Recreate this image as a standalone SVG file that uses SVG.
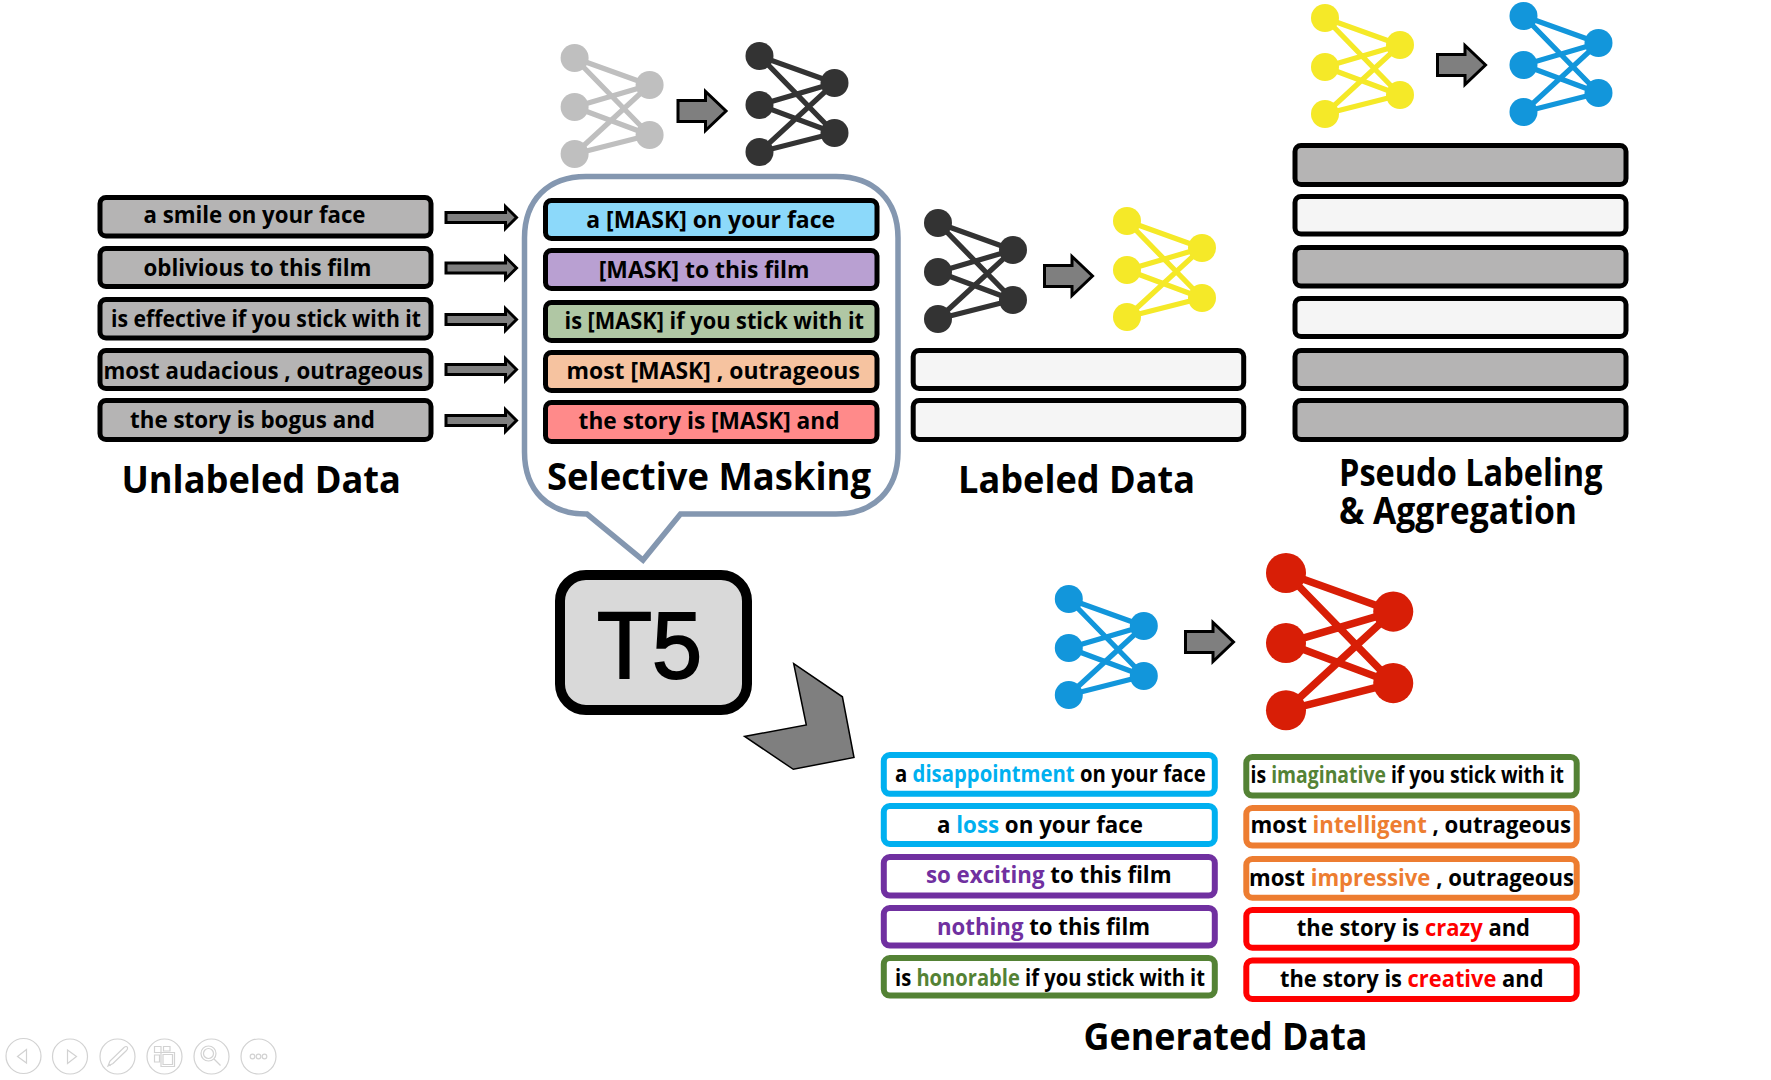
<svg xmlns="http://www.w3.org/2000/svg" xmlns:xlink="http://www.w3.org/1999/xlink" width="1771" height="1080" viewBox="0 0 1771 1080">
<style>
text{font-family:"Open Sans","Noto Sans","Liberation Sans",sans-serif;fill:#000}
.row{font-size:24px;font-weight:700}
.title{font-size:37px;font-weight:700}
.box{stroke:#000;stroke-width:5;fill:#b5b4b4}
.w{fill:#f5f5f5}
.g{stroke-width:6;fill:#fff}
.arr{fill:#7f7f7f;stroke:#000;stroke-width:3}
.ic{fill:none;stroke:#d2d2d2;stroke-width:1.2}
.bl{fill:#00b0f0}.pu{fill:#7030a0}.gr{fill:#548235}.or{fill:#ed7d31}.re{fill:#ff0000}
</style>
<defs>
<g id="net"><g stroke="currentColor" stroke-width="5.200"><path fill="none" d="M0 0L75 27M0 0L75 77M0 49L75 27M0 49L75 77M0 96L75 27M0 96L75 77"/></g><g fill="currentColor"><circle r="14"/><circle cy="49" r="14"/><circle cy="96" r="14"/><circle cx="75" cy="27" r="14"/><circle cx="75" cy="77" r="14"/></g></g>
<path id="bigArrow" d="M1.500 12.500H29V3.500L49.500 23L29 42.500V33.500H1.500Z"/>
<path id="smallArrow" d="M1.500-5H61V-11L72-0L61 11V5H1.500Z"/>
</defs>

<g id="connectors">
<use href="#smallArrow" class="arr" x="444.500" y="217.500"/>
<use href="#smallArrow" class="arr" x="444.500" y="268"/>
<use href="#smallArrow" class="arr" x="444.500" y="319.500"/>
<use href="#smallArrow" class="arr" x="444.500" y="369.500"/>
<use href="#smallArrow" class="arr" x="444.500" y="420.500"/>
<use href="#bigArrow" class="arr" x="676.500" y="88"/>
<use href="#bigArrow" class="arr" x="1043" y="253"/>
<use href="#bigArrow" class="arr" x="1436" y="42"/>
<use href="#bigArrow" class="arr" x="1184" y="619"/>
<path id="t5-arrow" d="M793.700 663.600L842.400 696.800L854 757.500L793.300 769.300L744.600 736.400L806.300 725Z" fill="#7f7f7f" stroke="#000" stroke-width="1.500"/>
</g>

<g id="bubble"><path d="M587 514H586C548 514 524.500 490 524.500 452V238C524.500 200 548 176.500 586 176.500H836C874 176.500 898 200 898 238V452C898 490 874 514 836 514H680.500L643 560Z" fill="#fff" stroke="#8497b0" stroke-width="5.500"/></g>

<g id="net-grey"><use href="#net" x="574.600" y="58" color="#bfbfbf"/></g>
<g id="net-black-1"><use href="#net" x="759.500" y="56" color="#333"/></g>
<g id="net-black-2"><use href="#net" x="938" y="223" color="#333"/></g>
<g id="net-yellow-1"><use href="#net" x="1127" y="221" color="#f5e928"/></g>
<g id="net-yellow-2"><use href="#net" x="1325" y="18" color="#f5e928"/></g>
<g id="net-blue-1"><use href="#net" x="1523.500" y="16" color="#1296db"/></g>
<g id="net-blue-2"><use href="#net" x="1068.800" y="599" color="#1296db"/></g>
<g id="net-red"><use href="#net" transform="translate(1286 573) scale(1.43)" color="#d81e06"/></g>

<g id="unlabeled">
<g id="u1"><rect class="box" x="100" y="197.500" width="331" height="38.500" rx="6"/><text class="row" x="143.500" y="222.500" textLength="222" lengthAdjust="spacingAndGlyphs">a smile on your face</text></g>
<g id="u2"><rect class="box" x="100" y="248.500" width="331" height="38" rx="6"/><text class="row" x="143.500" y="275.500" textLength="228" lengthAdjust="spacingAndGlyphs">oblivious to this film</text></g>
<g id="u3"><rect class="box" x="100" y="299.500" width="331" height="38.500" rx="6"/><text class="row" x="111" y="326.500" textLength="310" lengthAdjust="spacingAndGlyphs">is effective if you stick with it</text></g>
<g id="u4"><rect class="box" x="100" y="350.500" width="331" height="38" rx="6"/><text class="row" x="103.500" y="378.500" textLength="319.500" lengthAdjust="spacingAndGlyphs">most audacious , outrageous</text></g>
<g id="u5"><rect class="box" x="100" y="400.500" width="331" height="39" rx="6"/><text class="row" x="130" y="428" textLength="245" lengthAdjust="spacingAndGlyphs">the story is bogus and</text></g>
<text class="title" x="121.400" y="493" textLength="279.600" lengthAdjust="spacingAndGlyphs">Unlabeled Data</text>
</g>

<g id="masked">
<g id="m1"><rect class="box" x="545.500" y="200.500" width="331.500" height="38" rx="6" style="fill:#8cd9fa"/><text class="row" x="586.200" y="227.500" textLength="249" lengthAdjust="spacingAndGlyphs">a [MASK] on your face</text></g>
<g id="m2"><rect class="box" x="545.500" y="250.500" width="331.500" height="38" rx="6" style="fill:#b9a0d2"/><text class="row" x="598.800" y="277.500" textLength="210.700" lengthAdjust="spacingAndGlyphs">[MASK] to this film</text></g>
<g id="m3"><rect class="box" x="545.500" y="302.500" width="331.500" height="38" rx="6" style="fill:#b0c7a4"/><text class="row" x="564.500" y="328.500" textLength="299.500" lengthAdjust="spacingAndGlyphs">is [MASK] if you stick with it</text></g>
<g id="m4"><rect class="box" x="545.500" y="352.500" width="331.500" height="38" rx="6" style="fill:#f6c3a0"/><text class="row" x="566.500" y="379" textLength="293.300" lengthAdjust="spacingAndGlyphs">most [MASK] , outrageous</text></g>
<g id="m5"><rect class="box" x="545.500" y="402.500" width="331.500" height="39" rx="6" style="fill:#ff8a8a"/><text class="row" x="578.600" y="429" textLength="261" lengthAdjust="spacingAndGlyphs">the story is [MASK] and</text></g>
<text class="title" x="547" y="490" textLength="324" lengthAdjust="spacingAndGlyphs">Selective Masking</text>
</g>

<g id="t5"><rect x="560" y="575" width="187" height="135" rx="26" fill="#d9d9d9" stroke="#000" stroke-width="10"/><text x="597" y="678" textLength="105" lengthAdjust="spacingAndGlyphs" style="font-family:'Liberation Sans',Arial,sans-serif;font-size:95px;font-weight:400;stroke:#000;stroke-width:2">T5</text></g>

<g id="labeled">
<rect class="box w" x="913.200" y="350.500" width="330.500" height="38" rx="6"/>
<rect class="box w" x="913.200" y="400.500" width="330.500" height="39" rx="6"/>
<text class="title" x="958" y="493" textLength="237" lengthAdjust="spacingAndGlyphs">Labeled Data</text>
</g>

<g id="pseudo">
<rect class="box" x="1295" y="145.500" width="331" height="39" rx="6"/>
<rect class="box w" x="1295" y="196.500" width="331" height="37.500" rx="6"/>
<rect class="box" x="1295" y="247.500" width="331" height="38.500" rx="6"/>
<rect class="box w" x="1295" y="298.500" width="331" height="38" rx="6"/>
<rect class="box" x="1295" y="350.500" width="331" height="38" rx="6"/>
<rect class="box" x="1295" y="400.500" width="331" height="39" rx="6"/>
<text class="title" x="1339" y="486" textLength="263.500" lengthAdjust="spacingAndGlyphs">Pseudo Labeling</text>
<text class="title" x="1339" y="523.500" textLength="238" lengthAdjust="spacingAndGlyphs">&amp; Aggregation</text>
</g>

<g id="generated">
<g id="g1"><rect class="box g" x="883.800" y="755" width="331" height="38.800" rx="6" style="stroke:#00b0f0"/><text class="row" x="895" y="782" textLength="310.700" lengthAdjust="spacingAndGlyphs">a <tspan class="bl">disappointment</tspan> on your face</text></g>
<g id="g2"><rect class="box g" x="883.800" y="806" width="331" height="38" rx="6" style="stroke:#00b0f0"/><text class="row" x="937" y="833.300" textLength="206" lengthAdjust="spacingAndGlyphs">a <tspan class="bl">loss</tspan> on your face</text></g>
<g id="g3"><rect class="box g" x="883.800" y="857" width="331" height="38.600" rx="6" style="stroke:#7030a0"/><text class="row" x="926" y="883.300" textLength="245.500" lengthAdjust="spacingAndGlyphs"><tspan class="pu">so exciting</tspan> to this film</text></g>
<g id="g4"><rect class="box g" x="883.800" y="908" width="331" height="37.600" rx="6" style="stroke:#7030a0"/><text class="row" x="937" y="935" textLength="213" lengthAdjust="spacingAndGlyphs"><tspan class="pu">nothing</tspan> to this film</text></g>
<g id="g5"><rect class="box g" x="883.800" y="958" width="331" height="37.600" rx="6" style="stroke:#548235"/><text class="row" x="895" y="986" textLength="310" lengthAdjust="spacingAndGlyphs">is <tspan class="gr">honorable</tspan> if you stick with it</text></g>
<g id="g6"><rect class="box g" x="1246.300" y="757" width="330.400" height="38.600" rx="6" style="stroke:#548235"/><text class="row" x="1250.600" y="783" textLength="313.400" lengthAdjust="spacingAndGlyphs">is <tspan class="gr">imaginative</tspan> if you stick with it</text></g>
<g id="g7"><rect class="box g" x="1246.300" y="808" width="330.400" height="37.600" rx="6" style="stroke:#ed7d31"/><text class="row" x="1250.600" y="833.300" textLength="320.400" lengthAdjust="spacingAndGlyphs">most <tspan class="or">intelligent</tspan> , outrageous</text></g>
<g id="g8"><rect class="box g" x="1246.300" y="859" width="330.400" height="38.700" rx="6" style="stroke:#ed7d31"/><text class="row" x="1249" y="886" textLength="325" lengthAdjust="spacingAndGlyphs">most <tspan class="or">impressive</tspan> , outrageous</text></g>
<g id="g9"><rect class="box g" x="1246.300" y="910" width="330.400" height="37.700" rx="6" style="stroke:#ff0000"/><text class="row" x="1296.800" y="936.300" textLength="233.200" lengthAdjust="spacingAndGlyphs">the story is <tspan class="re">crazy</tspan> and</text></g>
<g id="g10"><rect class="box g" x="1246.300" y="960.500" width="330.400" height="38.500" rx="6" style="stroke:#ff0000"/><text class="row" x="1280" y="987.300" textLength="263.500" lengthAdjust="spacingAndGlyphs">the story is <tspan class="re">creative</tspan> and</text></g>
<text class="title" x="1083.500" y="1049.600" textLength="284" lengthAdjust="spacingAndGlyphs">Generated Data</text>
</g>

<g id="toolbar" class="ic">
<circle cx="23.500" cy="1056" r="17.500"/><path d="M26.500 1049.500L17.500 1056.500L26.500 1063Z"/>
<circle cx="70" cy="1056.500" r="17.500"/><path d="M67.500 1050L76.500 1056.500L67.500 1063.500Z"/>
<circle cx="117.500" cy="1056.500" r="17.500"/><path d="M108 1066L110 1061L124 1047.500Q126.500 1045.500 127.500 1047.500Q128 1049 126.500 1050.500L113 1063.500ZM109 1064L110.500 1066"/>
<circle cx="164.500" cy="1056.500" r="17.500"/><path d="M154.500 1046.500H161V1052.500H154.500ZM163.500 1046.500H170V1051H163.500ZM154.500 1055H159.500V1062H154.500ZM161 1052.500H174.500V1066.500H161ZM163 1054.500H172.500V1064.500H163Z"/>
<circle cx="211.500" cy="1056.500" r="17.500"/><circle cx="208.500" cy="1053.500" r="7.500"/><circle cx="208.500" cy="1053.500" r="5"/><path d="M214 1059L220.500 1065.500"/>
<circle cx="258.500" cy="1056.500" r="17.500"/><circle cx="252.500" cy="1056.500" r="2.300"/><circle cx="258.500" cy="1056.500" r="2.300"/><circle cx="264.500" cy="1056.500" r="2.300"/>
</g>
</svg>
